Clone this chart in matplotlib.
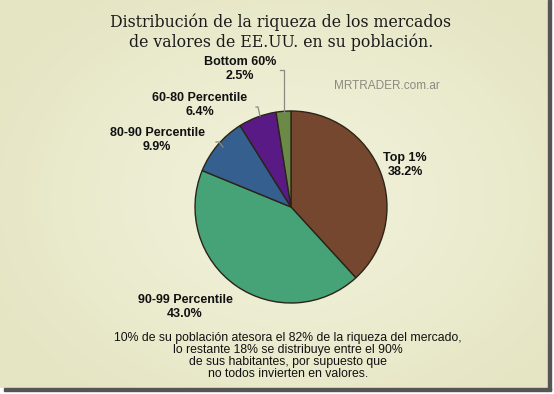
import numpy as np
import matplotlib
matplotlib.use("Agg")
import matplotlib.pyplot as plt
from matplotlib.patches import Rectangle

# data
labels = ["Top 1%", "90-99 Percentile", "80-90 Percentile", "60-80 Percentile", "Bottom 60%"]
shares = [38.2, 43.0, 9.9, 6.4, 2.5]
colors = ["#76472f", "#46a277", "#345f8e", "#5a1a86", "#6c8a47"]

title = "Distribución de la riqueza de los mercados\nde valores de EE.UU. en su población."
note = ("10% de su población atesora el 82% de la riqueza del mercado,\n"
        "lo restante 18% se distribuye entre el 90%\n"
        "de sus habitantes, por supuesto que\n"
        "no todos invierten en valores.")

W, H = 554, 394
fig = plt.figure(figsize=(W / 100, H / 100), dpi=100)
fig.patch.set_facecolor("white")
ax = fig.add_axes([0, 0, 1, 1])
ax.axis("off")

# background with soft glow, plus drop shadow on right / bottom
yy, xx = np.mgrid[0:388, 0:548]
d = np.sqrt(((xx - 290) / 340.0) ** 2 + ((yy - 190) / 260.0) ** 2)
d = np.clip(d, 0, 1)
c0 = np.array([243, 243, 222]) / 255
c1 = np.array([229, 229, 195]) / 255
bg = c0 + (c1 - c0) * d[..., None]
ax.imshow(bg, extent=[0, 548, H, H - 388], origin="upper", zorder=0)
ax.add_patch(Rectangle((548, H - 390), 3, 390, color="#555555", zorder=0))
ax.add_patch(Rectangle((4, H - 391), 547, 3, color="#555555", zorder=0))

cx, cy, r = 291, H - 207, 96
ax.pie(shares, colors=colors, startangle=90, counterclock=False,
       center=(cx, cy), radius=r, frame=True,
       wedgeprops=dict(edgecolor="#2b2418", linewidth=1.0))
ax.set_xlim(0, W)
ax.set_ylim(0, H)
ax.set_aspect("equal")
ax.axis("off")

ax.text(281, H - 32.5, title, ha="center", va="center", fontsize=11.3,
        family="DejaVu Serif", color="#1a1a1a", linespacing=1.15)

ax.text(387, H - 86, "MRTRADER.com.ar", ha="center", va="center",
        fontsize=8.5, color="#8a8a80", family="Liberation Sans")

lab_style = dict(ha="center", va="center", fontsize=9, fontweight="bold",
                 family="Liberation Sans", color="#111111", linespacing=1.2)
ax.text(405, H - 165, f"{labels[0]}\n{shares[0]:.1f}%", **lab_style)
ax.text(185, H - 307, f"{labels[1]}\n{shares[1]:.1f}%", **lab_style)
ax.text(157, H - 140, f"{labels[2]}\n{shares[2]:.1f}%", **lab_style)
ax.text(200, H - 105, f"{labels[3]}\n{shares[3]:.1f}%", **lab_style)
ax.text(240, H - 69, f"{labels[4]}\n{shares[4]:.1f}%", **lab_style)

# leader lines
lc = dict(color="#8a8a80", linewidth=0.9)
ax.plot([280, 284, 284], [H - 70, H - 70, H - 112], **lc)
ax.plot([256, 258, 260], [H - 107, H - 107, H - 116], **lc)
ax.plot([216, 219, 223], [H - 142, H - 142, H - 147], **lc)

ax.text(288, H - 356, note, ha="center", va="center", fontsize=8.8,
        family="Liberation Sans", color="#111111", linespacing=1.02)

fig.savefig("out.png", dpi=100)
